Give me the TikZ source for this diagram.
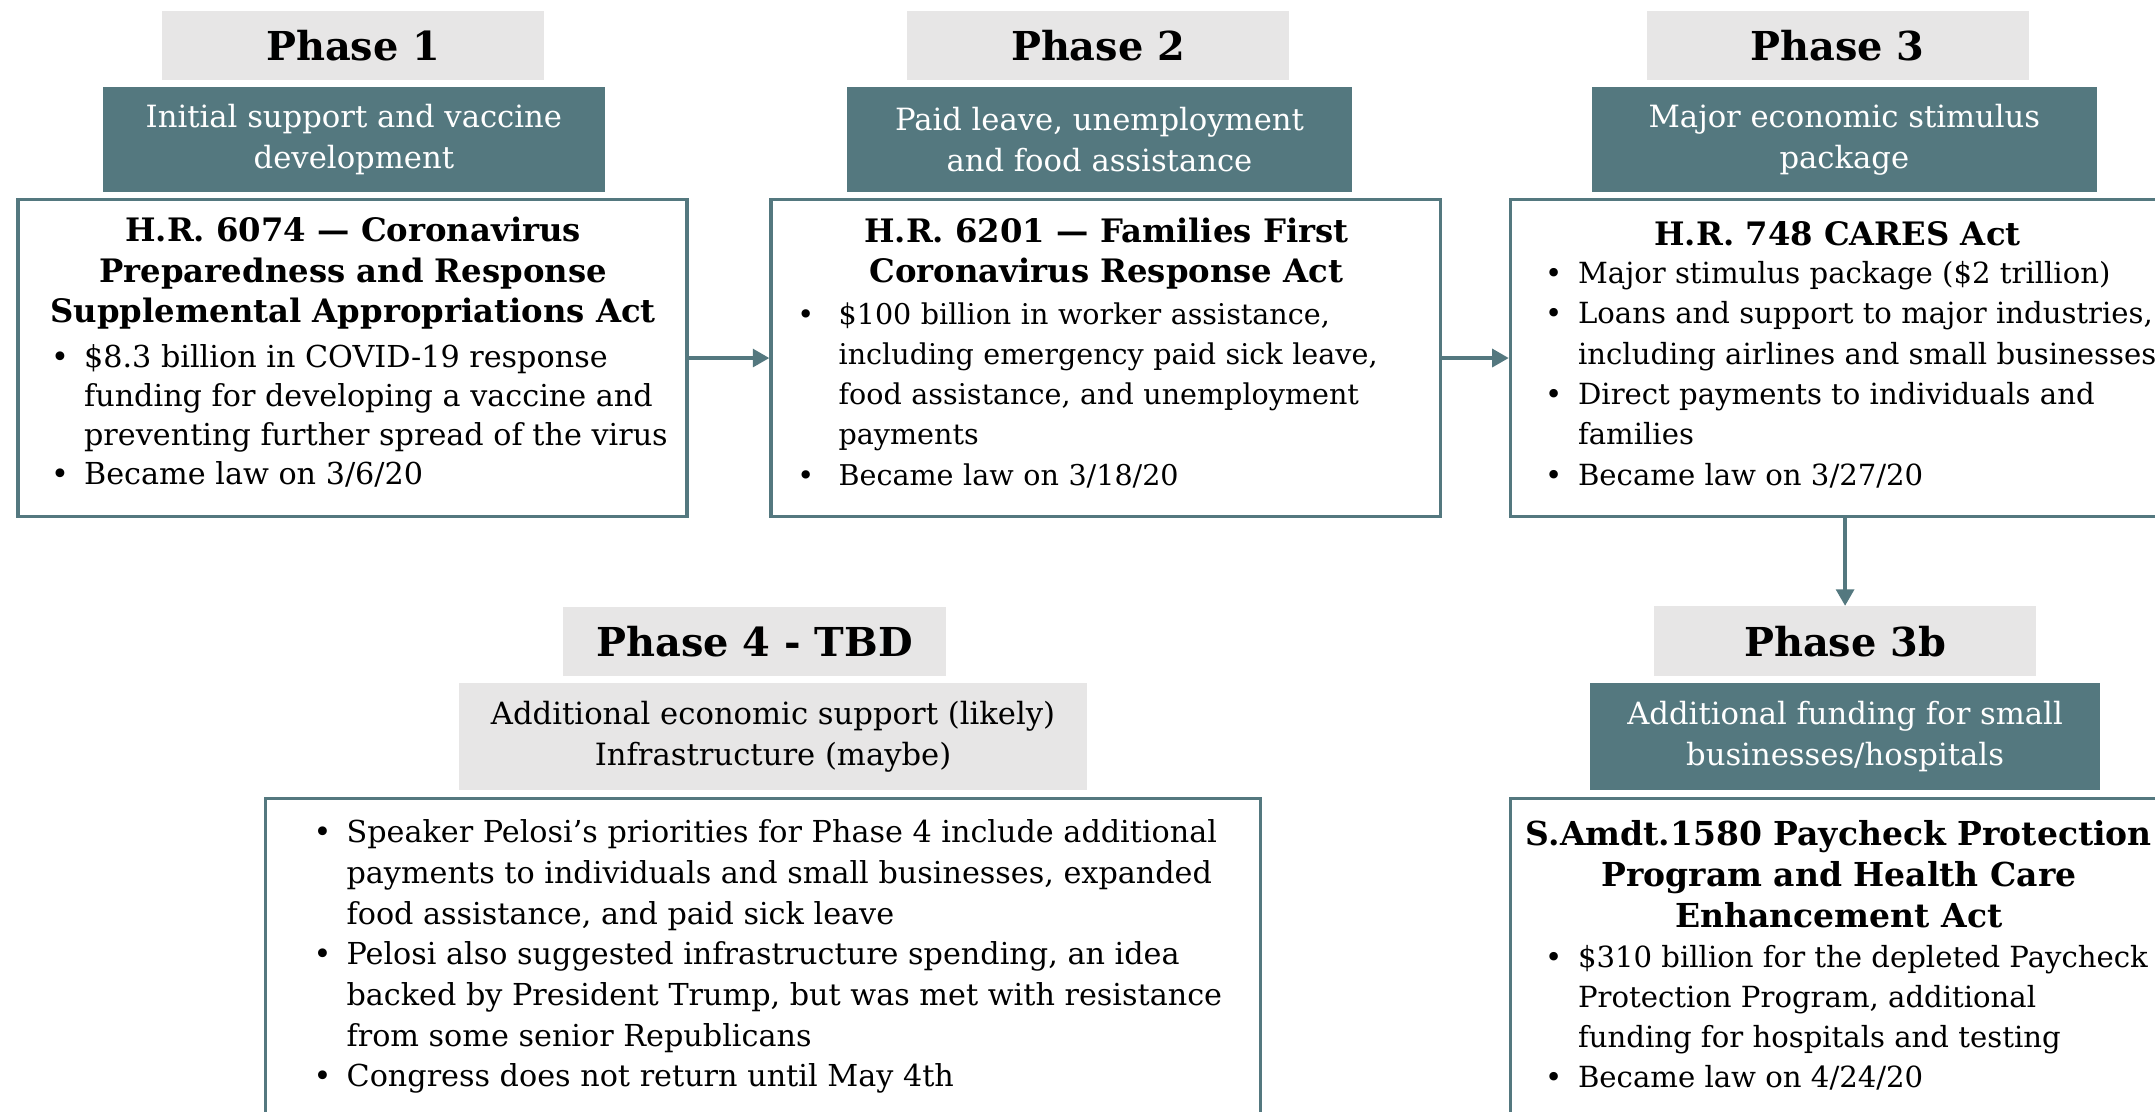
\documentclass[tikz,border=0pt]{standalone}
\usepackage{fontspec}
\setmainfont{DejaVu Serif}
\usetikzlibrary{arrows.meta}
\definecolor{phteal}{RGB}{84,120,127}
\definecolor{phgray}{RGB}{231,230,230}
\newlength{\bulw}
\setlength{\bulw}{24pt}
\newcommand{\bul}{\makebox[\bulw][l]{\textbullet}}
\newcommand{\cnt}{\hspace*{\bulw}}

\tikzset{
	hdr/.style={fill=phgray, minimum width=278pt, minimum height=50pt, inner sep=0pt, font=\bfseries\fontsize{29}{34}\selectfont},
	sub/.style={fill=phteal, text=white, minimum width=368pt, minimum height=77pt, inner sep=0pt, align=center, font=\fontsize{22.3}{30}\selectfont},
	actbox/.style={draw=phteal, line width=2.5pt, inner sep=0pt},
	ttl/.style={inner sep=0pt, align=center, font=\bfseries\fontsize{23.5}{29.5}\selectfont},
	lst/.style={inner sep=0pt, align=left, anchor=west, font=\fontsize{22}{29.3}\selectfont},
	arr/.style={draw=phteal, line width=2.5pt, -{Triangle[length=12pt,width=13pt]}}
}

\begin{document}
\begin{tikzpicture}[x=1pt, y=-1pt]
				\useasboundingbox[fill=white] (0,0) rectangle (1568,809);
				\clip (0,0) rectangle (1568,809);
				
				\node[hdr] (p1hdr) at (257,33) {Phase 1};
				\node[sub, minimum width=365pt] (p1sub) at (257.5,101.5) {Initial support and vaccine\\development};
				\node[actbox, minimum width=487pt, minimum height=231pt] (p1box) at (256.5,260.5) {};
				\node[ttl] (p1ttl) at (257,199) {H.R. 6074 — Coronavirus\\Preparedness and Response\\Supplemental Appropriations Act};
				\node[lst, font=\fontsize{22}{28.5}\selectfont] (p1lst) at (37,302.5) {\bul\$8.3 billion in COVID-19 response\\\cnt funding for developing a vaccine and\\\cnt preventing further spread of the virus\\\bul Became law on 3/6/20};
				
				\node[hdr] (p2hdr) at (799,33) {Phase 2};
				\node[sub] (p2sub) at (800,101.5) {Paid leave, unemployment\\and food assistance};
				\node[actbox, minimum width=487pt, minimum height=231pt] (p2box) at (804.5,260.5) {};
				\node[ttl] (p2ttl) at (805,184.5) {H.R. 6201 — Families First\\Coronavirus Response Act};
				\node[lst, font=\fontsize{20.8}{29.3}\selectfont, text width=440pt] (p2lst) at (580,287.5) {\setlength{\bulw}{30pt}\bul\$100 billion in worker assistance,\\\cnt including emergency paid sick leave,\\\cnt food assistance, and unemployment\\\cnt payments\\\bul Became law on 3/18/20};
				
				\node[hdr] (p3hdr) at (1337,33) {Phase 3};
				\node[sub] (p3sub) at (1342,101.5) {Major economic stimulus\\package};
				\node[actbox, minimum width=491pt, minimum height=231pt] (p3box) at (1344.5,260.5) {};
				\node[ttl] (p3ttl) at (1337,170) {H.R. 748 CARES Act};
				\node[lst, font=\fontsize{21.2}{29.4}\selectfont] (p3lst) at (1124,272.5) {\bul Major stimulus package (\$2 trillion)\\\bul Loans and support to major industries,\\\cnt including airlines and small businesses\\\bul Direct payments to individuals and\\\cnt families\\\bul Became law on 3/27/20};
				
				\node[hdr, minimum height=51pt] (p3bhdr) at (1342.5,466.5) {Phase 3b};
				\node[sub, minimum width=371pt, minimum height=78pt] (p3bsub) at (1342.5,536) {Additional funding for small\\businesses/hospitals};
				\node[actbox, minimum width=491pt, minimum height=260pt] (p3bbox) at (1344.5,711) {};
				\node[ttl, font=\bfseries\fontsize{24}{30}\selectfont] (p3bttl) at (1338,636) {S.Amdt.1580 Paycheck Protection\\Program and Health Care\\Enhancement Act};
				\node[lst, font=\fontsize{21.2}{29}\selectfont] (p3blst) at (1124,740.5) {\bul\$310 billion for the depleted Paycheck\\\cnt Protection Program, additional\\\cnt funding for hospitals and testing\\\bul Became law on 4/24/20};
				
				\node[hdr] (p4hdr) at (549,466.5) {Phase 4 - TBD};
				\node[sub, fill=phgray, text=black, minimum width=457pt, minimum height=78pt] (p4sub) at (562.5,536) {Additional economic support (likely)\\Infrastructure (maybe)};
				\node[actbox, minimum width=724pt, minimum height=260pt] (p4box) at (555,711) {};
				\node[lst, font=\fontsize{22}{29.6}\selectfont] (p4lst) at (228,696) {\bul Speaker Pelosi’s priorities for Phase 4 include additional\\\cnt payments to individuals and small businesses, expanded\\\cnt food assistance, and paid sick leave\\\bul Pelosi also suggested infrastructure spending, an idea\\\cnt backed by President Trump, but was met with resistance\\\cnt from some senior Republicans\\\bul Congress does not return until May 4th};
				
				\draw[arr] (p1box.east) -- (p2box.west);
				\draw[arr] (p2box.east) -- (p2box.east -| p3box.west);
				\draw[arr] (p3box.south -| p3bhdr.north) -- (p3bhdr.north);
			\end{tikzpicture}
\end{document}
